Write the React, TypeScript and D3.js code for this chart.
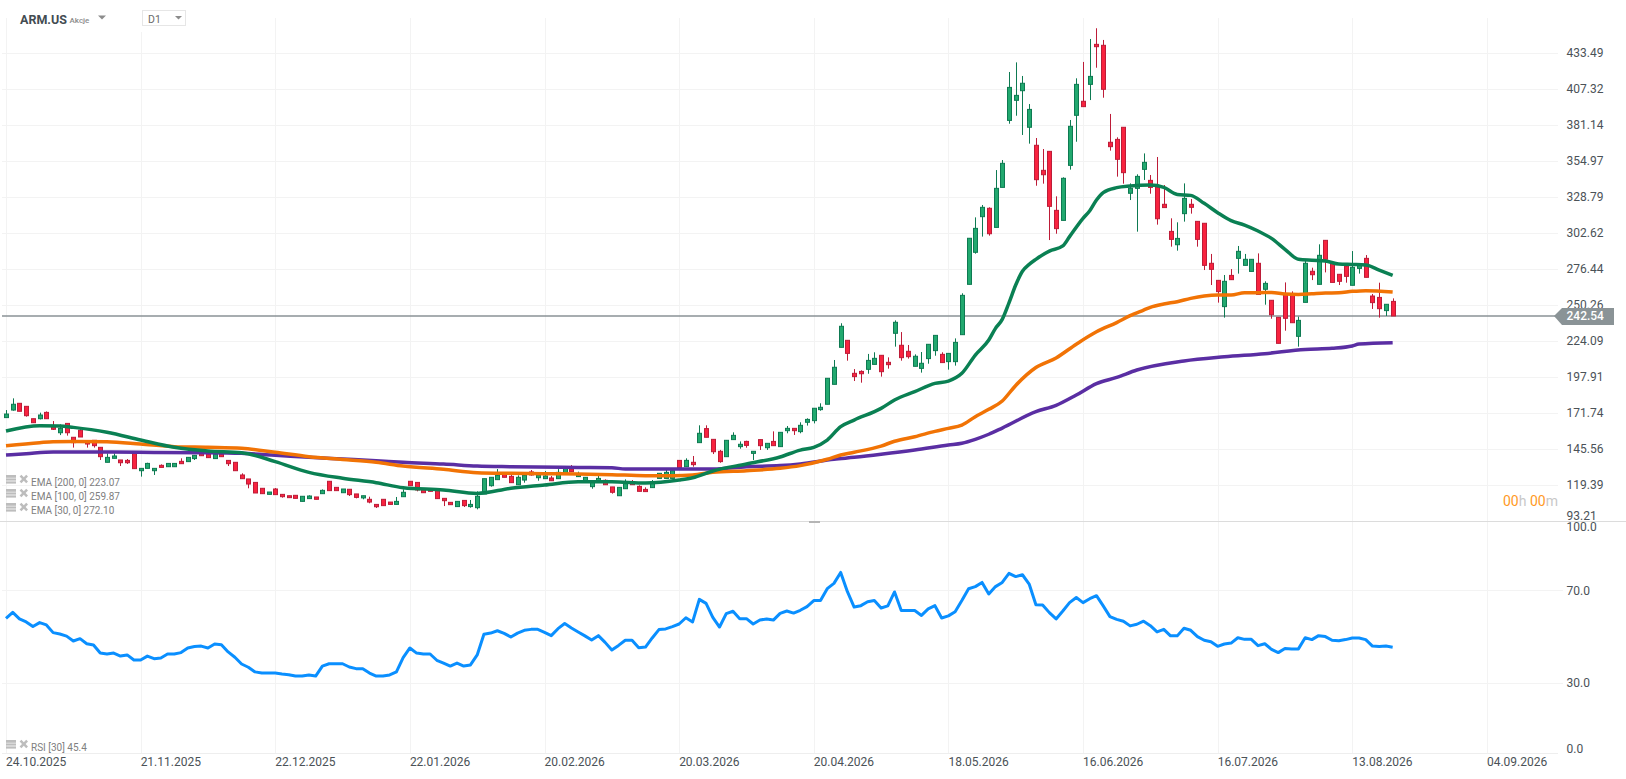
import React from "react";
import * as d3 from "d3";

const opens = [
168.6,174.1,179.0,176.8,167.8,167.8,172.4,162.0,157.6,164.4,
154.3,159.4,151.6,152.1,147.0,136.1,139.0,137.8,137.5,142.6,
130.0,131.7,130.0,133.9,132.9,132.9,136.8,136.6,138.8,142.6,
142.1,138.8,142.1,137.5,136.1,126.9,124.0,121.5,117.2,112.8,
116.7,112.8,111.8,112.1,107.7,109.7,110.9,113.3,122.3,117.9,
114.0,116.5,113.1,110.2,109.2,105.5,109.2,107.2,105.5,111.1,
122.3,121.5,116.4,116.9,115.5,109.9,107.0,103.9,108.4,103.9,
103.1,113.1,119.1,123.5,127.6,125.9,119.8,123.2,129.1,124.9,
124.2,124.7,124.2,128.1,131.2,125.7,121.8,118.4,122.0,123.0,
118.2,111.8,116.9,120.8,118.6,116.4,117.7,124.4,124.4,124.4,
137.5,132.9,136.1,150.4,160.6,152.8,144.1,140.2,152.6,147.5,
151.3,142.6,152.6,146.7,151.3,147.5,159.1,160.8,158.4,165.2,
166.4,174.4,178.3,192.8,219.7,224.8,200.8,202.2,203.7,207.3,
213.9,208.8,229.9,221.2,216.8,205.9,204.4,211.5,217.3,214.6,
209.3,209.3,228.9,265.5,288.8,314.7,320.8,306.9,336.0,384.7,
399.3,406.3,379.7,366.6,348.4,362.2,319.3,312.0,352.0,388.4,
398.6,410.9,440.0,439.3,368.8,370.9,379.7,331.7,335.3,349.1,
341.1,336.0,323.7,304.0,294.3,316.9,323.7,311.3,309.9,280.8,
268.4,249.3,272.0,284.4,279.3,274.9,280.8,261.9,253.9,241.5,
258.2,257.5,227.7,252.4,275.0,265.5,297.5,280.8,272.8,278.6,
264.8,277.1,284.4,257.0,256.0,246.4,253.1];

const closes = [
171.2,178.3,173.2,170.0,164.9,170.5,167.8,160.1,160.8,157.6,
150.4,154.5,149.4,148.2,140.2,139.7,140.7,135.8,135.8,131.5,
131.7,135.3,131.7,132.4,135.3,135.3,135.1,139.7,141.2,140.9,
139.5,141.9,140.2,135.1,130.0,124.2,120.3,113.8,113.3,114.5,
112.6,111.1,110.4,109.9,111.4,111.6,109.2,115.7,115.5,115.5,
116.7,112.6,110.6,111.8,107.2,103.8,104.6,105.5,107.7,114.3,
119.1,116.0,114.0,115.0,109.7,108.2,105.3,107.7,104.6,105.5,
111.4,124.2,125.2,126.6,125.2,121.3,125.2,126.6,126.9,126.9,
126.2,122.7,128.8,131.7,129.3,127.6,125.2,121.5,124.4,119.8,
114.3,117.9,120.6,119.8,115.0,114.8,122.0,128.1,128.8,130.0,
132.2,137.5,134.4,157.2,154.3,143.8,136.6,152.1,155.7,149.2,
148.4,144.1,148.2,149.9,148.2,157.9,160.8,159.1,163.0,167.3,
175.4,176.1,197.2,205.2,235.0,215.3,198.4,200.5,210.2,211.7,
202.0,207.1,237.9,212.2,212.9,213.2,208.1,221.9,228.4,208.6,
215.3,223.3,257.5,299.0,306.2,321.5,302.3,335.3,353.5,408.7,
402.9,411.7,392.7,341.6,345.2,322.2,306.0,342.6,380.4,410.9,
394.7,416.7,438.3,407.3,365.6,356.4,346.7,335.3,344.0,354.2,
336.0,313.2,321.3,298.2,298.9,328.0,321.5,298.2,279.3,276.4,
260.2,267.7,268.9,289.5,283.7,283.7,258.2,266.2,243.4,222.6,
240.8,237.6,239.3,280.8,272.5,286.6,283.7,266.9,267.7,271.3,
277.9,280.0,270.6,252.2,247.8,251.0,242.5];

const highs = [
174.1,182.6,179.0,176.8,167.8,172.2,173.1,166.1,163.7,164.4,
154.3,160.3,151.6,152.1,147.0,142.6,142.6,137.8,138.5,142.6,
131.7,135.8,131.7,134.6,135.3,135.3,139.0,139.7,141.2,142.6,
142.1,141.9,142.1,137.5,136.1,128.1,124.0,121.5,117.2,114.5,
117.4,112.8,111.8,112.1,111.4,112.1,110.9,116.4,122.3,117.9,
116.7,116.5,113.1,111.8,111.1,105.5,109.2,107.2,110.9,116.4,
122.3,121.5,116.4,116.9,115.5,109.9,107.0,107.7,108.4,108.7,
115.0,124.2,125.2,131.2,127.6,127.6,126.6,126.6,130.5,128.6,
129.8,126.2,131.2,131.7,134.1,129.3,125.2,121.5,126.2,123.7,
118.2,117.9,123.7,123.2,119.4,117.9,123.2,128.1,130.5,130.0,
137.5,139.0,140.7,163.0,163.0,152.8,145.1,152.1,157.9,151.3,
151.8,144.1,152.6,149.9,158.6,157.9,162.5,160.8,165.2,168.1,
175.4,179.0,197.2,210.5,237.2,224.8,203.9,203.0,214.9,216.1,
213.9,212.4,239.3,230.8,221.4,214.6,216.3,221.9,228.4,216.1,
215.3,226.2,259.0,299.0,314.2,323.2,321.5,348.6,355.9,419.9,
426.9,417.0,396.6,371.9,363.9,362.2,329.5,343.3,385.0,415.3,
427.2,443.9,451.7,443.2,389.4,372.4,379.7,338.9,345.5,360.7,
345.0,358.1,337.7,313.5,310.6,338.9,327.5,311.3,309.9,287.6,
268.4,272.3,276.6,293.4,287.6,283.7,288.0,267.7,253.9,241.5,
266.9,260.4,242.0,283.7,277.6,294.6,297.5,280.8,272.8,279.6,
289.7,280.8,286.8,258.5,266.7,251.0,255.3];

const lows = [
168.6,173.6,173.2,169.3,164.9,167.3,167.8,159.6,155.9,155.5,
146.8,154.5,146.8,146.8,137.8,136.1,139.0,133.4,134.9,131.5,
125.7,131.7,126.9,132.4,132.9,132.9,135.1,136.6,137.8,140.9,
139.5,138.8,140.2,133.4,130.0,124.2,117.2,113.8,113.3,112.8,
112.6,110.4,110.4,109.9,107.7,109.7,109.2,113.3,115.5,115.5,
114.0,111.6,109.9,109.2,106.3,102.9,104.6,105.5,105.5,111.1,
119.1,115.0,114.0,115.0,109.7,104.3,105.3,103.9,103.6,103.1,
101.9,113.1,118.4,123.5,125.2,121.3,119.8,121.3,126.4,122.7,
124.2,122.7,124.2,128.1,129.3,125.7,121.8,116.9,122.0,119.8,
113.3,111.8,116.9,119.8,115.0,114.8,117.7,124.4,124.4,124.4,
132.2,132.9,132.9,150.4,154.3,142.1,135.8,140.2,152.6,146.0,
146.7,137.8,145.1,145.1,148.2,147.5,157.2,156.0,157.2,162.8,
164.4,173.6,178.3,192.8,219.7,210.0,195.2,194.0,200.5,207.3,
198.4,204.2,220.2,210.0,211.5,205.9,201.3,207.8,213.6,208.6,
203.5,206.4,228.9,265.5,287.8,300.2,300.9,306.9,336.0,382.3,
388.1,374.1,367.8,337.2,338.7,297.7,302.3,312.0,348.9,369.2,
394.7,399.5,423.0,401.2,362.7,343.8,338.7,326.8,303.8,341.4,
331.4,308.9,321.3,292.9,290.0,311.1,316.9,292.9,275.9,265.0,
252.2,241.3,268.9,273.3,279.3,274.9,258.2,250.7,240.5,222.6,
231.8,237.6,220.2,252.4,268.6,265.5,274.2,266.9,265.0,266.7,
264.8,273.3,270.6,247.6,241.3,242.5,242.5];

const ema30Bars = [0,5,8,10,15,20,25,30,35,40,45,50,55,59,65,70,75,80,85,90,95,100,102,105,110,115,118,120,122,124,126,130,132,135,138,140,142,144,146,147,148,149,150,151,152,153,155,157,158,160,161,162,163,165,167,170,172,174,176,178,180,182,184,186,188,190,192,194,196,198,200,202,204,206];
const ema30Values = [158.9,162.7,162.5,161.5,157.9,152.3,147.0,144.3,143.1,136.6,128.8,124.5,121.3,117.6,116.0,113.5,117.2,119.6,122.0,122.0,121.0,123.2,124.9,129.8,134.9,140.0,145.0,147.0,152.3,162.0,166.8,175.3,181.4,187.5,193.5,195.2,200.8,214.1,225.0,233.5,240.0,252.0,265.0,275.0,280.0,283.7,289.7,293.4,300.2,313.5,319.0,326.8,332.2,335.8,337.0,337.7,336.0,330.9,330.2,324.4,317.6,311.8,308.6,304.3,298.9,291.0,283.7,283.0,282.5,280.3,280.0,279.6,275.9,272.1];

const ema100Bars = [0,5,7,10,15,20,25,30,35,40,45,50,55,59,65,70,75,80,85,90,95,99,102,105,110,115,118,122,124,126,130,132,135,138,140,142,144,146,148,150,153,156,159,162,165,167,169,170,172,174,176,178,180,182,184,186,188,190,192,194,196,198,200,202,206];
const ema100Values = [148.2,150.4,151.1,151.3,151.1,149.4,147.5,147.0,146.3,143.4,140.2,138.2,136.1,133.4,131.0,128.6,128.1,127.8,127.6,127.1,126.4,126.4,126.9,128.8,130.0,131.7,133.7,138.3,141.4,143.4,147.9,151.4,154.7,158.6,160.8,163.2,169.3,174.6,180.7,192.0,205.0,212.0,222.0,231.0,237.7,242.7,246.8,248.8,251.2,252.9,255.3,257.0,257.7,257.7,259.4,259.4,259.6,258.5,258.2,258.7,259.2,259.4,260.4,260.9,259.9];

const ema200Bars = [0,3,7,15,22,30,35,40,45,50,55,59,65,70,75,85,90,92,100,105,110,115,118,123,126,130,135,140,142,144,146,148,153,156,159,162,165,168,175,181,187,193,197,200,201,206];
const ema200Values = [141.4,142.4,143.6,143.6,143.3,143.1,142.6,141.2,139.7,138.5,137.3,136.1,134.9,133.4,132.9,132.4,132.2,131.2,131.2,131.2,132.9,133.7,134.9,138.3,139.7,141.9,145.0,148.7,150.0,152.8,156.5,161.0,172.9,177.5,185.0,193.3,197.8,203.2,209.8,212.8,215.1,218.2,219.0,220.7,222.1,223.1];

const rsiValues = [
58.2,60.8,58.0,56.7,54.7,56.4,55.4,52.1,51.5,50.6,
48.5,49.5,47.3,46.8,43.3,42.9,43.3,42.0,42.5,40.3,
40.3,42.0,40.9,41.2,42.9,42.9,43.5,45.5,46.1,46.3,
45.5,47.2,46.9,43.8,41.5,38.6,37.2,35.2,34.7,34.7,
34.7,34.3,34.0,33.4,33.4,33.9,33.4,37.7,38.7,38.7,
38.7,37.3,36.6,36.6,34.7,33.4,33.4,33.9,35.2,41.3,
45.5,43.3,42.9,42.9,40.2,39.0,37.7,39.0,37.7,38.2,
42.5,51.4,51.9,52.9,51.8,50.2,51.9,53.1,53.5,53.5,
52.2,50.8,53.8,56.0,54.1,52.4,50.7,48.9,50.8,47.9,
44.6,46.6,48.8,48.8,45.6,45.9,49.8,53.4,53.7,54.7,
55.8,58.5,56.7,66.4,64.7,58.7,54.5,60.3,61.3,58.1,
58.1,55.8,57.5,58.0,57.5,60.4,61.4,60.5,61.7,63.3,
65.9,65.9,71.0,73.3,78.0,69.7,63.1,63.7,65.4,65.9,
62.7,63.6,69.6,61.6,61.6,61.6,59.5,62.3,63.7,58.4,
59.3,61.1,65.9,71.0,71.9,73.7,68.7,71.9,73.7,77.6,
76.2,77.0,73.0,64.1,64.0,60.7,58.0,61.4,65.0,67.2,
65.0,66.7,68.0,63.6,59.0,57.8,57.0,55.0,55.7,57.0,
55.1,52.4,53.5,50.7,50.7,54.0,53.1,50.4,48.8,48.2,
46.2,47.2,47.6,49.9,49.2,49.2,46.5,47.3,44.9,43.5,
45.3,45.1,45.1,49.9,49.1,50.8,50.4,48.8,48.6,49.1,
49.8,49.8,49.1,46.3,46.1,46.3,45.8];

const priceTicks = ["433.49","407.32","381.14","354.97","328.79","302.62","276.44","250.26","224.09","197.91","171.74","145.56","119.39","93.21"];
const rsiTicks = ["100.0","70.0","30.0","0.0"];
const dateLabels = ["24.10.2025","21.11.2025","22.12.2025","22.01.2026","20.02.2026","20.03.2026","20.04.2026","18.05.2026","16.06.2026","16.07.2026","13.08.2026","04.09.2026"];
const dateBars = [0,20,40,60,80,100,120,140,160,180,200,220];
const legendLines = ["EMA [200, 0] 223.07","EMA [100, 0] 259.87","EMA [30, 0] 272.10"];
const lastPrice = 242.54;

const FONT = "Roboto, sans-serif";
const TXT = "#4b5257";
const GRID = "#f3f3f3";

const x = d3.scaleLinear().domain([0, 220]).range([6, 1486.9]);
const y = d3.scaleLinear().domain([93.21, 433.49]).range([521.3, 53.3]);
const yRsi = d3.scaleLinear().domain([0, 100]).range([753.7, 521.3]);

const emaLine = (bars: number[], values: number[]) =>
  d3.line<number>().x((b) => x(b)).y((_, i) => y(values[i])).curve(d3.curveMonotoneX)(bars) as string;
const rsiLine = d3.line<number>().x((_, i) => x(i)).y((v) => yRsi(v)).curve(d3.curveLinear)(rsiValues) as string;

function Icons({ ty }: { ty: number }) {
  return (
    <g fill="#bdbdbd">
      <rect x={6} y={ty} width={10} height={2.8} />
      <rect x={6} y={ty + 3.4} width={10} height={2.2} />
      <rect x={6} y={ty + 6.4} width={10} height={2.2} />
      <path d={`M19.6 ${ty + 1.6}l1.8-1.8 2.4 2.4 2.4-2.4 1.8 1.8-2.4 2.4 2.4 2.4-1.8 1.8-2.4-2.4-2.4 2.4-1.8-1.8 2.4-2.4z`} />
    </g>
  );
}

export default function App() {
  const lastY = y(lastPrice);
  return (
    <svg width={1626} height={779} viewBox="0 0 1626 779" style={{ position: "absolute", left: 0, top: 0, background: "#fff", fontFamily: FONT }}>
      {/* grid */}
      {priceTicks.slice(0, 13).map((t) => (
        <line key={t} x1={2} x2={1558} y1={Math.round(y(+t)) + 0.5} y2={Math.round(y(+t)) + 0.5} stroke={GRID} />
      ))}
      {[70, 30].map((v) => (
        <line key={v} x1={2} x2={1563} y1={Math.round(yRsi(v)) - 0.5} y2={Math.round(yRsi(v)) - 0.5} stroke={GRID} />
      ))}
      {dateBars.map((b, i) => (
        <line key={b} x1={Math.round(x(b)) + 0.5} x2={Math.round(x(b)) + 0.5} y1={i === 1 ? 32 : 18} y2={754} stroke={GRID} />
      ))}
      <line x1={2} x2={1558} y1={753.5} y2={753.5} stroke="#eeeeee" />
      <line x1={0} x2={1626} y1={521.5} y2={521.5} stroke="#dcdcdc" />
      <rect x={809} y={521} width={11} height={2} fill="#b5b5b5" />

      {/* last price line */}
      <line x1={2} x2={1556} y1={lastY} y2={lastY} stroke="#8a9296" strokeWidth={1.5} />

      {/* candles */}
      <g>
        {opens.map((o, i) => {
          const c = closes[i];
          const up = c >= o;
          const cx = Math.round(x(i));
          const top = y(Math.max(o, c));
          const bot = y(Math.min(o, c));
          const edge = up ? "#0e7a52" : "#bd1c38";
          return (
            <g key={i}>
              <line x1={cx + 0.5} x2={cx + 0.5} y1={y(highs[i])} y2={y(lows[i])} stroke={edge} strokeWidth={1} />
              <rect x={cx - 1.5} y={top} width={4} height={Math.max(bot - top, 1)} fill={up ? "#22a96f" : "#f8233f"} stroke={edge} strokeWidth={1} />
            </g>
          );
        })}
      </g>

      {/* EMAs */}
      <path d={emaLine(ema200Bars, ema200Values)} fill="none" stroke="#5a2ea3" strokeWidth={3.5} strokeLinejoin="round" />
      <path d={emaLine(ema100Bars, ema100Values)} fill="none" stroke="#f17305" strokeWidth={3.5} strokeLinejoin="round" />
      <path d={emaLine(ema30Bars, ema30Values)} fill="none" stroke="#0a8053" strokeWidth={3.5} strokeLinejoin="round" />

      {/* RSI */}
      <path d={rsiLine} fill="none" stroke="#0a8fff" strokeWidth={3} strokeLinejoin="round" />

      {/* price axis labels */}
      {priceTicks.map((t, i) => (
        <text key={t} x={1566.5} y={i === 13 ? 520 : y(+t) + 4} fontSize={12} fill={TXT}>{t}</text>
      ))}
      <path d={`M1554 ${lastY} L1562 308 L1614 308 L1614 325 L1562 325 Z`} fill="#8a9396" />
      <text x={1566.5} y={lastY + 4.3} fontSize={12} fontWeight={500} fill="#fff">{lastPrice.toFixed(2)}</text>

      {/* RSI axis labels */}
      {rsiTicks.map((t) => (
        <text key={t} x={1566.5} y={t === "100.0" ? 531 : t === "0.0" ? 752.5 : yRsi(+t) + 3.5} fontSize={12} fill={TXT}>{t}</text>
      ))}

      {/* date labels */}
      {dateLabels.map((d, i) => (
        <text key={d} x={x(dateBars[i])} y={765.5} fontSize={12} fill={TXT}>{d}</text>
      ))}

      {/* countdown */}
      <text x={1503} y={506} fontSize={14}>
        <tspan fill="#ff9a1f">00</tspan><tspan fill="#c8c8c8">h </tspan><tspan fill="#ff9a1f">00</tspan><tspan fill="#c8c8c8">m</tspan>
      </text>

      {/* legend */}
      {legendLines.map((l, i) => (
        <g key={l}>
          <Icons ty={475 + i * 14} />
          <text x={31} y={485.8 + i * 14} fontSize={10} fill="#808080">{l}</text>
        </g>
      ))}
      <Icons ty={740} />
      <text x={31} y={751} fontSize={10} fill="#808080">RSI [30] 45.4</text>

      {/* header */}
      <text x={20} y={23.5} fontSize={12.5} fontWeight={700} fill="#434c52">ARM.US</text>
      <text x={69.5} y={23} fontSize={8} fontWeight={500} fill="#8c8c8c">Akcje</text>
      <path d="M98 15.5 L106 15.5 L102 19.5 Z" fill="#8c8c8c" />
      <rect x={142.5} y={10.5} width={43} height={15} fill="#fff" stroke="#e6e6e6" />
      <text x={148} y={22.5} fontSize={10.5} fill="#6a6a6a">D1</text>
      <path d="M175 16 L182 16 L178.5 19.5 Z" fill="#8c8c8c" />
    </svg>
  );
}
